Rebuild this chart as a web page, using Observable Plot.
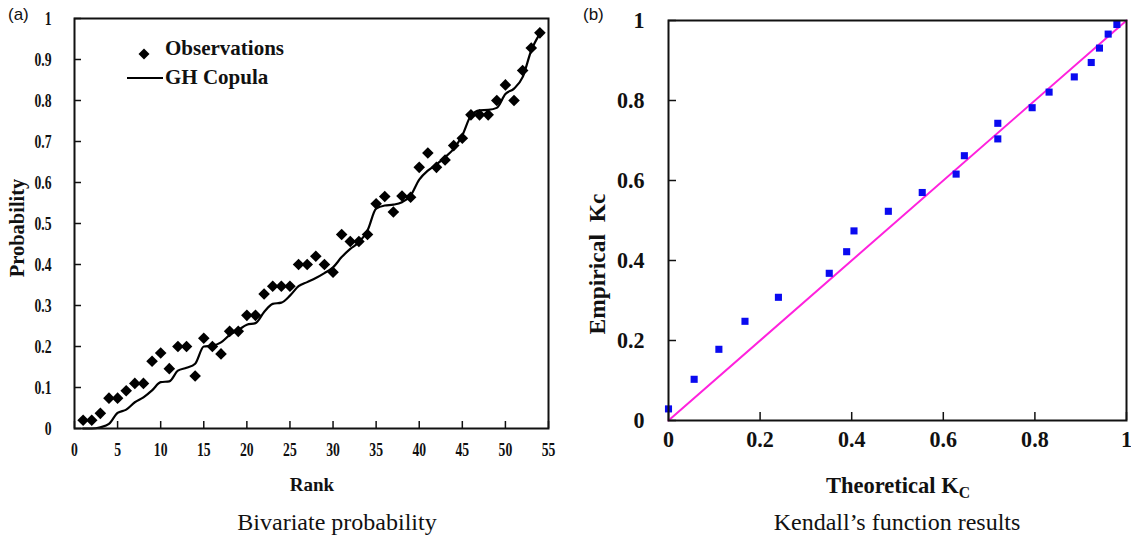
<!DOCTYPE html>
<html><head><meta charset="utf-8">
<script src="https://cdn.jsdelivr.net/npm/d3@7"></script>
<script src="https://cdn.jsdelivr.net/npm/@observablehq/plot@0.6"></script>
<style>
body{margin:0;background:#fff;}
#wrap{position:relative;width:1131px;height:538px;overflow:hidden;background:#fff;font-family:"Liberation Serif","Times New Roman",serif;color:#111;}
#wrap svg{position:absolute;top:0;}
.abs{position:absolute;white-space:nowrap;line-height:1;}
.c{transform:translate(-50%,-50%);}
.l{transform:translate(0,-50%);}
.rot{transform:translate(-50%,-50%) rotate(-90deg);}
</style></head><body><div id="wrap"></div>
<script>
// ---- data ----
const rank = [1,2,3,4,5,6,7,8,9,10,11,12,13,14,15,16,17,18,19,20,21,22,23,24,25,26,27,28,29,30,31,32,33,34,35,36,37,38,39,40,41,42,43,44,45,46,47,48,49,50,51,52,53,54];
const observations = [0.02,0.02,0.037,0.074,0.074,0.092,0.11,0.11,0.164,0.184,0.146,0.20,0.20,0.128,0.22,0.20,0.182,0.237,0.237,0.276,0.276,0.328,0.347,0.347,0.347,0.40,0.40,0.42,0.40,0.381,0.473,0.456,0.456,0.473,0.548,0.566,0.528,0.567,0.564,0.637,0.672,0.637,0.655,0.69,0.708,0.765,0.765,0.765,0.80,0.838,0.80,0.873,0.928,0.965];
const ghCopula = [0,0,0.003,0.011,0.038,0.046,0.064,0.076,0.093,0.113,0.115,0.141,0.148,0.158,0.20,0.202,0.21,0.228,0.24,0.253,0.257,0.284,0.304,0.307,0.324,0.347,0.357,0.367,0.379,0.393,0.418,0.438,0.454,0.483,0.536,0.544,0.546,0.552,0.568,0.607,0.629,0.644,0.662,0.682,0.715,0.763,0.776,0.777,0.782,0.816,0.829,0.857,0.922,0.963];
const theoreticalKc = [0,0.056,0.11,0.167,0.24,0.351,0.389,0.405,0.480,0.554,0.628,0.646,0.719,0.719,0.794,0.831,0.886,0.923,0.941,0.960,0.979];
const empiricalKc = [0.029,0.103,0.178,0.248,0.308,0.368,0.422,0.474,0.523,0.570,0.616,0.662,0.704,0.743,0.782,0.821,0.859,0.895,0.931,0.966,0.99];
const diagonal = [0,1];
const rankTicks = [0,5,10,15,20,25,30,35,40,45,50,55];
const probTicks = [0,0.1,0.2,0.3,0.4,0.5,0.6,0.7,0.8,0.9,1];
const probTickLabels = ["0","0.1","0.2","0.3","0.4","0.5","0.6","0.7","0.8","0.9","1"];
const kcTicks = [0,0.2,0.4,0.6,0.8,1];
const kcTickLabels = ["0","0.2","0.4","0.6","0.8","1"];

const leftData = rank.map((r,i)=>({rank:r, obs:observations[i], gh:ghCopula[i]}));
const rightData = theoreticalKc.map((t,i)=>({t, e:empiricalKc[i]}));

const diamond = {draw(ctx,size){const r=Math.sqrt(size/Math.PI);ctx.moveTo(0,-r);ctx.lineTo(r,0);ctx.lineTo(0,r);ctx.lineTo(-r,0);ctx.closePath();}};

const wrap = document.getElementById("wrap");
function squeeze(svg, s){
  svg.querySelectorAll('g[aria-label$="tick label"] text').forEach(t=>{
    t.setAttribute("transform",(t.getAttribute("transform")||"")+` scale(${s},1)`);
  });
}
function place(html, x, y, cls, style){
  const d=document.createElement("div");
  d.className="abs "+cls; d.innerHTML=html;
  d.style.left=x+"px"; d.style.top=y+"px";
  Object.assign(d.style, style||{});
  wrap.appendChild(d); return d;
}

// ---- left panel ----
const LW=565, LH=500, LML=74, LMR=17, LMT=18, LMB=72;
const left = Plot.plot({
  width:LW, height:LH, marginLeft:LML, marginRight:LMR, marginTop:LMT, marginBottom:LMB,
  style:{fontFamily:"Liberation Serif, serif", background:"transparent", color:"#111"},
  x:{domain:[0,55]}, y:{domain:[0,1]},
  marks:[
    Plot.axisX(rankTicks,{tickSize:0,tickPadding:14,fontSize:19,fontWeight:"bold",label:null,tickFormat:d=>String(d)}),
    Plot.axisY(probTicks,{tickSize:0,tickPadding:23,fontSize:19,fontWeight:"bold",label:null,tickFormat:d=>probTickLabels[probTicks.indexOf(d)]}),
    Plot.tickY(probTicks,{y:d=>d,stroke:"#111",strokeWidth:1.5,insetRight:LW-LML-LMR-7}),
    Plot.tickX(rankTicks,{x:d=>d,stroke:"#111",strokeWidth:1.5,insetTop:LH-LMT-LMB-7}),
    Plot.line(leftData,{x:"rank",y:"gh",stroke:"#000",strokeWidth:2.2,curve:"monotone-x"}),
    Plot.dot(leftData,{x:"rank",y:"obs",symbol:diamond,r:5.8,fill:"#000",stroke:"none"}),
    Plot.frame({stroke:"#111",strokeWidth:2})
  ]
});
left.style.left="0px";
wrap.appendChild(left);
squeeze(left,0.72);

// ---- right panel ----
const RX=565, RW=566, RH=500, RML=103, RMR=5, RMT=20, RMB=80;
const right = Plot.plot({
  width:RW, height:RH, marginLeft:RML, marginRight:RMR, marginTop:RMT, marginBottom:RMB,
  style:{fontFamily:"Liberation Serif, serif", background:"transparent", color:"#111"},
  x:{domain:[0,1]}, y:{domain:[0,1]},
  marks:[
    Plot.axisX(kcTicks,{tickSize:0,tickPadding:9,fontSize:24,fontWeight:"bold",label:null,tickFormat:d=>kcTickLabels[kcTicks.indexOf(d)]}),
    Plot.axisY(kcTicks,{tickSize:0,tickPadding:24,fontSize:24,fontWeight:"bold",label:null,tickFormat:d=>kcTickLabels[kcTicks.indexOf(d)]}),
    Plot.tickY(kcTicks,{y:d=>d,stroke:"#111",strokeWidth:1.5,insetRight:RW-RML-RMR-8}),
    Plot.tickX(kcTicks,{x:d=>d,stroke:"#111",strokeWidth:1.5,insetTop:RH-RMT-RMB-8}),
    Plot.line(diagonal,{x:d=>d,y:d=>d,stroke:"#ff22dd",strokeWidth:2}),
    Plot.dot(rightData,{x:"t",y:"e",symbol:"square",r:4,fill:"#0a0af0",stroke:"none"}),
    Plot.frame({stroke:"#111",strokeWidth:2})
  ]
});
right.style.left=RX+"px";
wrap.appendChild(right);
squeeze(right,0.92);

// ---- texts ----
place("(a)",8,14,"l",{fontFamily:"Liberation Sans, sans-serif",fontSize:"17px"});
place("(b)",583,14,"l",{fontFamily:"Liberation Sans, sans-serif",fontSize:"17px"});
place("Probability",17,228,"rot",{fontWeight:"bold",fontSize:"20.5px"});
place("Rank",312,484,"c",{fontWeight:"bold",fontSize:"19px"});
place("Bivariate probability",337,522,"c",{fontSize:"24px"});
place("Empirical&nbsp; Kc",598,264,"rot",{fontWeight:"bold",fontSize:"23.5px"});
place("Theoretical K<sub style='font-size:0.7em'>C</sub>",898,488,"c",{fontWeight:"bold",fontSize:"22.5px"});
place("Kendall’s function results",897,522,"c",{fontSize:"24px"});
// legend
place("<svg width='12' height='12'><path d='M6,0.5L11.5,6L6,11.5L0.5,6Z' fill='#000'/></svg>",138,48,"l",{});
place("Observations",165,48,"l",{fontWeight:"bold",fontSize:"21px"});
place("",127,77,"",{width:"36px",height:"2px",background:"#000"});
place("GH Copula",165,77,"l",{fontWeight:"bold",fontSize:"21px"});
</script></body></html>
